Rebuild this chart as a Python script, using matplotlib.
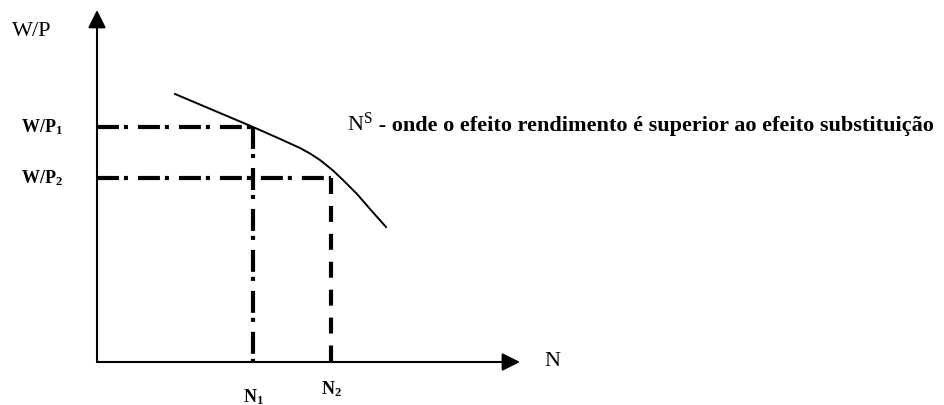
import matplotlib
matplotlib.use("Agg")
import matplotlib.pyplot as plt

plt.rcParams['font.family'] = ['Liberation Serif', 'DejaVu Serif']
plt.rcParams['mathtext.fontset'] = 'custom'
plt.rcParams['mathtext.rm'] = 'Liberation Serif'
plt.rcParams['mathtext.bf'] = 'Liberation Serif:bold'
plt.rcParams['mathtext.it'] = 'Liberation Serif:italic'
plt.rcParams['lines.scale_dashes'] = False

# ---- data (schematic units) ----
n_values = [156, 234]          # N1, N2
w_values = [235, 184]          # W/P1, W/P2
n_labels = [r'$\mathbf{N_1}$', r'$\mathbf{N_2}$']
w_labels = [r'$\mathbf{W/P_1}$', r'$\mathbf{W/P_2}$']
curve_n = [78, 117, 156, 181, 203, 213, 223, 236, 246, 260, 273, 289]
curve_w = [268, 251.5, 235, 224, 214, 208.5, 202, 191.5, 182, 168, 153, 135]
x_axis_end = 423
y_axis_end = 352
curve_label_main = r'N$^{\mathrm{S}}$'
curve_label_rest = ' - onde o efeito rendimento é superior ao efeito substituição'

fig = plt.figure(figsize=(9.44, 4.05), dpi=100)
ax = fig.add_axes([0, 0, 1, 1])
ax.set_xlim(-97, 847)
ax.set_ylim(-43, 362)
ax.axis('off')

arrow_kw = dict(arrowstyle='-|>', mutation_scale=27, lw=1.5, color='black',
                shrinkA=0, shrinkB=0)
ax.annotate('', xy=(0, y_axis_end), xytext=(0, 0), arrowprops=arrow_kw)
ax.annotate('', xy=(x_axis_end, 0), xytext=(0, 0), arrowprops=arrow_kw)

dashdot = (0, (15.8, 3.6, 2.9, 7.2))
dashed = (0, (11.5, 8.6))

# W/P1 horizontal + N1 vertical (dash-dot)
ax.plot([0, n_values[0]], [w_values[0], w_values[0]], color='black', lw=3,
        linestyle=dashdot, dash_capstyle='butt')
ax.plot([n_values[0], n_values[0]], [w_values[0], 0], color='black', lw=3,
        linestyle=dashdot, dash_capstyle='butt')
# W/P2 horizontal (dash-dot) + N2 vertical (dashed)
ax.plot([0, n_values[1]], [w_values[1], w_values[1]], color='black', lw=3,
        linestyle=dashdot, dash_capstyle='butt')
ax.plot([n_values[1], n_values[1]], [w_values[1], 0], color='black', lw=3,
        linestyle=dashed, dash_capstyle='butt')

# supply curve
ax.plot(curve_n, curve_w, color='black', lw=1.4, solid_joinstyle='round')

# labels
ax.text(-65, 330, 'W/P', fontsize=16, ha='center', va='center')
ax.text(455, 0, 'N', fontsize=16, ha='center', va='center')
for w, lab in zip(w_values, w_labels):
    ax.text(-55, w, lab, fontsize=13, ha='center', va='center')
ax.text(n_values[0], -35, n_labels[0], fontsize=13, ha='center', va='center')
ax.text(n_values[1], -27, n_labels[1], fontsize=13, ha='center', va='center')

t1 = ax.text(250, 231, curve_label_main, fontsize=16, ha='left', va='baseline')
fig.canvas.draw()
bb = t1.get_window_extent(renderer=fig.canvas.get_renderer())
x_end = ax.transData.inverted().transform((bb.x1, 0))[0]
ax.text(x_end, 231, curve_label_rest, fontsize=16, fontweight='bold',
        ha='left', va='baseline')

fig.savefig('out.png', dpi=100)
